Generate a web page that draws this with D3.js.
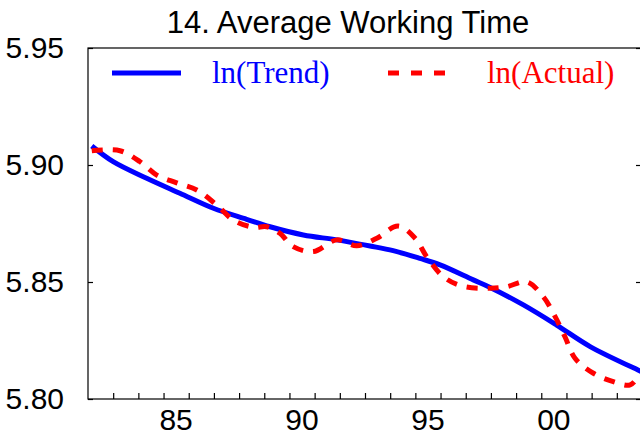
<!DOCTYPE html>
<html>
<head>
<meta charset="utf-8">
<script src="https://cdn.jsdelivr.net/npm/d3@7"></script>
<style>
  html, body { margin: 0; padding: 0; background: #fff; }
  svg { display: block; }
</style>
</head>
<body>
<svg id="chart" width="640" height="439"></svg>
<script>
// Average working time, log level: smooth trend vs. actual series
const chartTitle = "14. Average Working Time";
const seriesNames = ["ln(Trend)", "ln(Actual)"];

const trendYears  = [1982.15, 1983.00, 1984.33, 1985.65, 1986.98, 1988.30, 1989.23, 1990.55, 1991.88,
                     1993.20, 1994.12, 1995.18, 1995.98, 1997.30, 1997.97, 1999.29, 2000.61, 2001.94, 2003.84, 2004.0];
const trendValues = [5.9081, 5.9014, 5.8943, 5.8879, 5.8815, 5.8768, 5.8736, 5.8701, 5.8680,
                     5.8654, 5.8634, 5.8601, 5.8573, 5.8509, 5.8477, 5.8402, 5.8316, 5.8224, 5.8124, 5.8116];

const actualYears  = [1982.15, 1983.27, 1984.07, 1984.73, 1985.52, 1986.32, 1987.11, 1987.77, 1988.56,
                      1989.10, 1989.62, 1990.15, 1990.95, 1991.88, 1992.67, 1993.47, 1994.32, 1994.99,
                      1995.45, 1996.11, 1996.84, 1997.97, 1998.63, 1999.42, 2000.08, 2000.55, 2000.94,
                      2001.34, 2002.07, 2002.86, 2003.53, 2003.92];
const actualValues = [5.9061, 5.9061, 5.9014, 5.8957, 5.8924, 5.8893, 5.8829, 5.8765, 5.8734,
                      5.8736, 5.8708, 5.8651, 5.8630, 5.8680, 5.8655, 5.8687, 5.8739, 5.8687,
                      5.8608, 5.8523, 5.8483, 5.8473, 5.8480, 5.8501, 5.8437, 5.8352, 5.8266,
                      5.8174, 5.8110, 5.8074, 5.8060, 5.8107];

const yTicks = [5.80, 5.85, 5.90, 5.95];
const xLabelYears = [1985, 1990, 1995, 2000];
const xLabelText = ["85", "90", "95", "00"];

const svg = d3.select("#chart");
const plotLeft = 88, plotRight = 642, plotTop = 48, plotBottom = 399;

const x = d3.scaleLinear().domain([1982, 2004]).range([plotLeft, plotRight]);
const y = d3.scaleLinear().domain([5.80, 5.95]).range([plotBottom, plotTop]);

svg.append("defs").append("clipPath").attr("id", "plot")
  .append("rect").attr("x", plotLeft).attr("y", plotTop)
  .attr("width", plotRight - plotLeft).attr("height", plotBottom - plotTop);

// frame
svg.append("rect")
  .attr("x", plotLeft).attr("y", plotTop)
  .attr("width", plotRight - plotLeft).attr("height", plotBottom - plotTop)
  .attr("fill", "none").attr("stroke", "#000").attr("stroke-width", 1.2);

// bottom axis: yearly ticks pointing inward, labels centred within the year
const xAxis = d3.axisBottom(x).tickValues(d3.range(1983, 2004)).tickSize(-6).tickFormat("");
const gx = svg.append("g").attr("transform", `translate(0,${plotBottom})`).call(xAxis);
gx.select(".domain").remove();
gx.selectAll(".tick line").attr("stroke", "#000").attr("stroke-width", 1.2);

svg.append("g").selectAll("text").data(xLabelYears).join("text")
  .attr("x", d => x(d + 0.5))
  .attr("y", 430)
  .attr("text-anchor", "middle")
  .attr("font-family", "Liberation Sans, Arial, sans-serif")
  .attr("font-size", 30)
  .attr("fill", "#000")
  .text((d, i) => xLabelText[i]);

// left axis with labels, right axis ticks only
const yLeft = d3.axisLeft(y).tickValues(yTicks).tickSize(-5).tickPadding(24).tickFormat(d3.format(".2f"));
const gyl = svg.append("g").attr("transform", `translate(${plotLeft},0)`).call(yLeft);
gyl.select(".domain").remove();
gyl.selectAll(".tick line").attr("stroke", "#000").attr("stroke-width", 1.2);
gyl.selectAll(".tick text")
  .attr("font-family", "Liberation Sans, Arial, sans-serif")
  .attr("font-size", 30)
  .attr("fill", "#000")
  .attr("dy", "0.33em");

const yRight = d3.axisRight(y).tickValues(yTicks).tickSize(-6).tickFormat("");
const gyr = svg.append("g").attr("transform", `translate(${plotRight},0)`).call(yRight);
gyr.select(".domain").remove();
gyr.selectAll(".tick line").attr("stroke", "#000").attr("stroke-width", 1.2);

// series
const line = d3.line().x(d => x(d[0])).y(d => y(d[1])).curve(d3.curveCatmullRom.alpha(0.5));
const trend = trendYears.map((t, i) => [t, trendValues[i]]);
const actual = actualYears.map((t, i) => [t, actualValues[i]]);

const plot = svg.append("g").attr("clip-path", "url(#plot)");
plot.append("path").datum(trend)
  .attr("d", line).attr("fill", "none")
  .attr("stroke", "#0000ff").attr("stroke-width", 5);
plot.append("path").datum(actual)
  .attr("d", line).attr("fill", "none")
  .attr("stroke", "#ff0000").attr("stroke-width", 5)
  .attr("stroke-dasharray", "11,10");

// title
svg.append("text")
  .attr("x", 348).attr("y", 33)
  .attr("text-anchor", "middle")
  .attr("font-family", "Liberation Sans, Arial, sans-serif")
  .attr("font-size", 31)
  .attr("fill", "#000")
  .text(chartTitle);

// legend
const legend = svg.append("g");
legend.append("line").attr("x1", 112).attr("x2", 181).attr("y1", 73).attr("y2", 73)
  .attr("stroke", "#0000ff").attr("stroke-width", 5);
legend.append("text").attr("x", 212).attr("y", 83)
  .attr("font-family", "Liberation Serif, Times New Roman, serif").attr("font-size", 31)
  .attr("fill", "#0000ff").text(seriesNames[0]);
legend.append("line").attr("x1", 388).attr("x2", 445).attr("y1", 73).attr("y2", 73)
  .attr("stroke", "#ff0000").attr("stroke-width", 5).attr("stroke-dasharray", "11,12");
legend.append("text").attr("x", 487).attr("y", 83)
  .attr("font-family", "Liberation Serif, Times New Roman, serif").attr("font-size", 31)
  .attr("fill", "#ff0000").text(seriesNames[1]);
</script>
</body>
</html>
